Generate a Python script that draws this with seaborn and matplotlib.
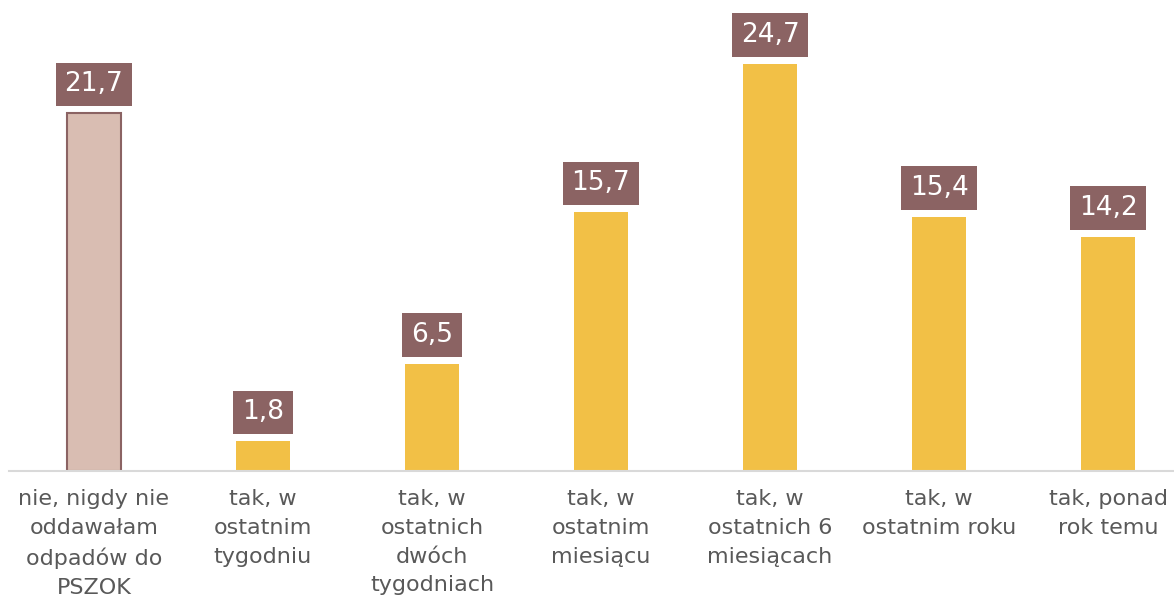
import matplotlib
matplotlib.use("Agg")
import matplotlib.pyplot as plt
import seaborn as sns
import pandas as pd

categories = [
    "nie, nigdy nie\noddawałam\nodpadów do\nPSZOK",
    "tak, w\nostatnim\ntygodniu",
    "tak, w\nostatnich\ndwóch\ntygodniach",
    "tak, w\nostatnim\nmiesiącu",
    "tak, w\nostatnich 6\nmiesiącach",
    "tak, w\nostatnim roku",
    "tak, ponad\nrok temu",
]
values = [21.7, 1.8, 6.5, 15.7, 24.7, 15.4, 14.2]
labels = ["21,7", "1,8", "6,5", "15,7", "24,7", "15,4", "14,2"]
groups = ["nie"] + ["tak"] * 6

df = pd.DataFrame({"cat": categories, "val": values, "grp": groups})

sns.set_style("white")
plt.rcParams["font.family"] = ["DejaVu Sans"]

fig = plt.figure(figsize=(11.74, 6.03), dpi=100)
ax = fig.add_axes([0.008, 0.219, 0.992, 0.781])

sns.barplot(data=df, x="cat", y="val", hue="grp",
            palette={"nie": "#D9BDB2", "tak": "#F2C046"}, saturation=1,
            dodge=False, width=0.32, legend=False, ax=ax)

for p in ax.patches:
    p.set_edgecolor("none")
# first bar has a darker outline
ax.patches[0].set_edgecolor("#8B6363")
ax.patches[0].set_linewidth(1.5)

for i, (v, lab) in enumerate(zip(values, labels)):
    ax.annotate(lab, (i, v), xytext=(0, 29), textcoords="offset pixels",
                ha="center", va="center", color="white", fontsize=19,
                bbox=dict(boxstyle="square,pad=0.33", fc="#8B6363", ec="none"))

ax.set_ylim(0, 28.58)
ax.set_xlim(-0.5, 6.39)
ax.set_xlabel("")
ax.set_ylabel("")
ax.set_yticks([])
ax.tick_params(axis="x", length=0, pad=13, labelsize=16, labelcolor="#595959")
for t in ax.get_xticklabels():
    t.set_linespacing(1.55)
for s in ["top", "right", "left"]:
    ax.spines[s].set_visible(False)
ax.spines["bottom"].set_color("#D9D9D9")
ax.spines["bottom"].set_linewidth(1.5)

fig.savefig("out.png", dpi=100)
